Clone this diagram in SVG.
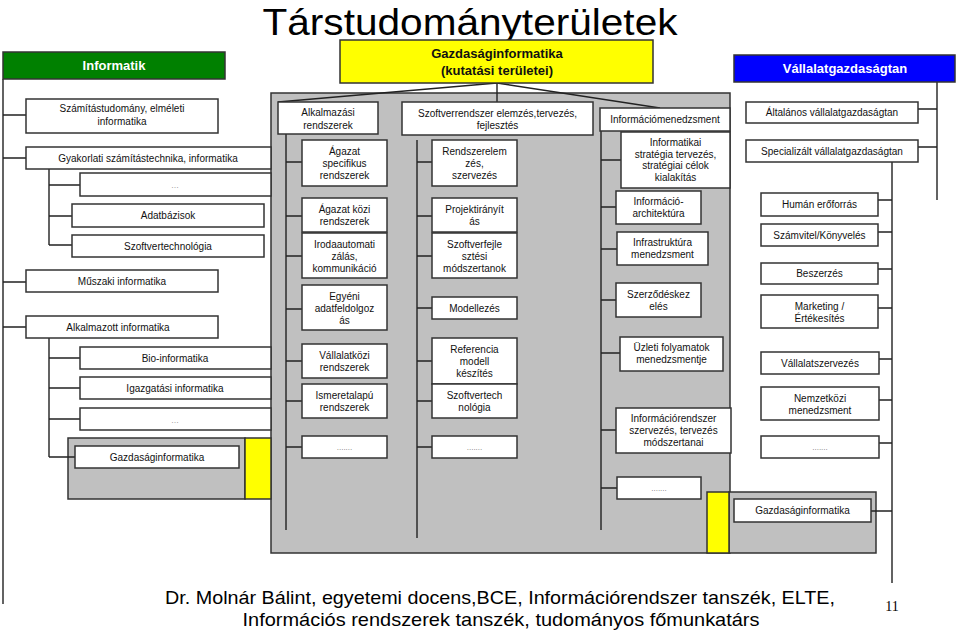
<svg xmlns="http://www.w3.org/2000/svg" width="960" height="633" viewBox="0 0 960 633">
<style>
.b{fill:#fff;stroke:#333;stroke-width:1.5}
.g{fill:#c0c0c0;stroke:#333;stroke-width:1.5}
.y{fill:#ffff00;stroke:#333;stroke-width:1.5}
.t{font-family:"Liberation Sans",Arial,sans-serif;font-size:10px;fill:#111;text-anchor:middle}
.d{font-family:"Liberation Sans",Arial,sans-serif;font-size:8px;fill:#777;text-anchor:middle}
.h{font-family:"Liberation Sans",Arial,sans-serif;font-weight:bold;font-size:13px;text-anchor:middle}
.c{stroke:#222;stroke-width:1.4;fill:none}
</style>
<rect width="960" height="633" fill="#fff"/>
<text x="470" y="35" font-family="Liberation Sans, Arial, sans-serif" font-size="36" text-anchor="middle" textLength="415" lengthAdjust="spacingAndGlyphs" fill="#000">Társtudományterületek</text>

<g id="bg">
<rect class="g" x="271" y="93" width="459" height="460"/>
<rect class="g" x="68" y="438" width="177" height="61"/>
<rect class="y" x="245" y="438" width="26" height="61"/>
<rect class="g" x="729" y="492" width="147" height="61"/>
<rect class="y" x="707" y="492" width="22" height="61"/>
</g>

<g id="connectors" class="c">
<path d="M497,83 L278,102 M497,83 L497,102 M497,83 L660,108"/>
<path d="M3,79 V604 M3,115 H26 M3,158 H26 M3,282 H26 M3,327 H26"/>
<path d="M49,169 V245 M49,185 H80 M49,216 H72 M49,245 H72"/>
<path d="M49,338 V457 M49,358 H80 M49,388 H80 M49,419 H80 M49,457 H75"/>
<path d="M286,134 V530 M286,162 H302 M286,216 H302 M286,256 H302 M286,309 H302 M286,361 H302 M286,401 H302 M286,447 H302"/>
<path d="M417,140 V538 M417,162 H432 M417,216 H432 M417,256 H432 M417,308 H432 M417,361 H432 M417,401 H432 M417,447 H432"/>
<path d="M601,131 V530 M601,160 H621 M601,207 H616 M601,249 H617 M601,300 H616 M601,353 H620 M601,430 H616 M601,488 H617"/>
<path d="M937,82 V200 M918,109 H937 M918,147 H937"/>
<path d="M892,162 V583 M878,200 H892 M878,232 H892 M878,269 H892 M878,308 H892 M879,359 H892 M879,400 H892 M879,443 H892 M871,511 H892"/>
</g>

<g id="informatik"><rect x="3" y="52" width="222" height="27" fill="#008000" stroke="#333" stroke-width="1.5"/><text class="h" x="114" y="70" fill="#fff">Informatik</text></g>
<g id="gazdinf-top"><rect class="y" x="340" y="40" width="313" height="43"/><text class="h" x="497" y="57.5" fill="#111">Gazdaságinformatika</text><text class="h" x="497" y="74.5" fill="#111">(kutatási területei)</text></g>
<g id="vallalat"><rect x="734" y="55" width="221" height="27" fill="#0000ff" stroke="#333" stroke-width="1.5"/><text class="h" x="845" y="73" fill="#fff">Vállalatgazdaságtan</text></g>

<g id="n1"><rect class="b" x="26" y="99" width="192" height="34"/><text class="t" x="122" y="112">Számítástudomány, elméleti</text><text class="t" x="122" y="125">informatika</text></g>
<g id="n2"><rect class="b" x="26" y="147" width="245" height="22"/><text class="t" x="148" y="161.5">Gyakorlati számítástechnika, informatika</text></g>
<g id="n3"><rect class="b" x="80" y="173" width="191" height="23"/><text class="d" x="175" y="188">…</text></g>
<g id="n4"><rect class="b" x="72" y="204" width="192" height="23"/><text class="t" x="168" y="219">Adatbázisok</text></g>
<g id="n5"><rect class="b" x="72" y="235" width="192" height="22"/><text class="t" x="168" y="249.5">Szoftvertechnológia</text></g>
<g id="n6"><rect class="b" x="26" y="270" width="192" height="22"/><text class="t" x="122" y="284.5">Műszaki informatika</text></g>
<g id="n7"><rect class="b" x="26" y="316" width="192" height="22"/><text class="t" x="118" y="330.5">Alkalmazott informatika</text></g>
<g id="n8"><rect class="b" x="80" y="347" width="191" height="22"/><text class="t" x="175" y="361.5">Bio-informatika</text></g>
<g id="n9"><rect class="b" x="80" y="377" width="191" height="22"/><text class="t" x="175" y="391.5">Igazgatási informatika</text></g>
<g id="n10"><rect class="b" x="80" y="408" width="191" height="22"/><text class="d" x="175" y="422.5">…</text></g>
<g id="n11"><rect class="b" x="75" y="446" width="164" height="22"/><text class="t" x="157" y="460.5">Gazdaságinformatika</text></g>

<g id="m0"><rect class="b" x="278" y="102" width="100" height="32"/><text class="t" x="328" y="116">Alkalmazási</text><text class="t" x="328" y="128.5">rendszerek</text></g>
<g id="m1"><rect class="b" x="302" y="140" width="85" height="46"/><text class="t" x="344.5" y="154.5">Ágazat</text><text class="t" x="344.5" y="166.5">specifikus</text><text class="t" x="344.5" y="178.5">rendszerek</text></g>
<g id="m2"><rect class="b" x="302" y="198" width="85" height="34"/><text class="t" x="344.5" y="212.5">Ágazat közi</text><text class="t" x="344.5" y="224.5">rendszerek</text></g>
<g id="m3"><rect class="b" x="302" y="233" width="85" height="45"/><text class="t" x="344.5" y="247.5">Irodaautomati</text><text class="t" x="344.5" y="259.5">zálás,</text><text class="t" x="344.5" y="271.5">kommunikáció</text></g>
<g id="m4"><rect class="b" x="302" y="285" width="85" height="45"/><text class="t" x="344.5" y="299.5">Egyéni</text><text class="t" x="344.5" y="311.5">adatfeldolgoz</text><text class="t" x="344.5" y="323.5">ás</text></g>
<g id="m5"><rect class="b" x="302" y="344" width="85" height="34"/><text class="t" x="344.5" y="358.5">Vállalatközi</text><text class="t" x="344.5" y="370.5">rendszerek</text></g>
<g id="m6"><rect class="b" x="302" y="384" width="85" height="34"/><text class="t" x="344.5" y="398.5">Ismeretalapú</text><text class="t" x="344.5" y="410.5">rendszerek</text></g>
<g id="m7"><rect class="b" x="302" y="436" width="85" height="22"/><text class="d" x="344.5" y="450">.......</text></g>

<g id="s0"><rect class="b" x="402" y="102" width="191" height="33"/><text class="t" x="497.5" y="116.5">Szoftverrendszer elemzés,tervezés,</text><text class="t" x="497.5" y="129">fejlesztés</text></g>
<g id="s1"><rect class="b" x="432" y="140" width="85" height="46"/><text class="t" x="474.5" y="154.5">Rendszerelem</text><text class="t" x="474.5" y="166.5">zés,</text><text class="t" x="474.5" y="178.5">szervezés</text></g>
<g id="s2"><rect class="b" x="432" y="198" width="85" height="34"/><text class="t" x="474.5" y="212.5">Projektirányít</text><text class="t" x="474.5" y="224.5">ás</text></g>
<g id="s3"><rect class="b" x="432" y="233" width="85" height="45"/><text class="t" x="474.5" y="247.5">Szoftverfejle</text><text class="t" x="474.5" y="259.5">sztési</text><text class="t" x="474.5" y="271.5">módszertanok</text></g>
<g id="s4"><rect class="b" x="432" y="297" width="85" height="22"/><text class="t" x="474.5" y="311.5">Modellezés</text></g>
<g id="s5"><rect class="b" x="432" y="338" width="85" height="46"/><text class="t" x="474.5" y="352.5">Referencia</text><text class="t" x="474.5" y="364.5">modell</text><text class="t" x="474.5" y="376.5">készítés</text></g>
<g id="s6"><rect class="b" x="432" y="384" width="85" height="34"/><text class="t" x="474.5" y="398.5">Szoftvertech</text><text class="t" x="474.5" y="410.5">nológia</text></g>
<g id="s7"><rect class="b" x="432" y="436" width="85" height="22"/><text class="d" x="474.5" y="450">.......</text></g>

<g id="i0"><rect class="b" x="600" y="108" width="130" height="23"/><text class="t" x="665" y="123">Információmenedzsment</text></g>
<g id="i1"><rect class="b" x="621" y="132" width="109" height="56"/><text class="t" x="675.5" y="146">Informatikai</text><text class="t" x="675.5" y="157.5">stratégia tervezés,</text><text class="t" x="675.5" y="169">stratégiai  célok</text><text class="t" x="675.5" y="180.5">kialakítás</text></g>
<g id="i2"><rect class="b" x="616" y="191" width="85" height="33"/><text class="t" x="658.5" y="204.5">Információ-</text><text class="t" x="658.5" y="216.5">architektúra</text></g>
<g id="i3"><rect class="b" x="617" y="232" width="91" height="33"/><text class="t" x="662.5" y="245.5">Infrastruktúra</text><text class="t" x="662.5" y="257.5">menedzsment</text></g>
<g id="i4"><rect class="b" x="616" y="283" width="85" height="34"/><text class="t" x="658.5" y="297.5">Szerződéskez</text><text class="t" x="658.5" y="309.5">elés</text></g>
<g id="i5"><rect class="b" x="620" y="337" width="103" height="34"/><text class="t" x="671.5" y="351">Üzleti folyamatok</text><text class="t" x="671.5" y="363">menedzsmentje</text></g>
<g id="i6"><rect class="b" x="616" y="408" width="115" height="45"/><text class="t" x="673.5" y="422">Információrendszer</text><text class="t" x="673.5" y="434">szervezés, tervezés</text><text class="t" x="673.5" y="446">módszertanai</text></g>
<g id="i7"><rect class="b" x="617" y="477" width="84" height="22"/><text class="d" x="659" y="491">.......</text></g>

<g id="v0"><rect class="b" x="746" y="102" width="172" height="21"/><text class="t" x="832" y="116">Általános vállalatgazdaságtan</text></g>
<g id="v1"><rect class="b" x="746" y="140" width="172" height="22"/><text class="t" x="832" y="154.5">Specializált  vállalatgazdaságtan</text></g>
<g id="v2"><rect class="b" x="761" y="193" width="117" height="23"/><text class="t" x="819.5" y="208">Humán erőforrás</text></g>
<g id="v3"><rect class="b" x="761" y="224" width="117" height="22"/><text class="t" x="819.5" y="238.5">Számvitel/Könyvelés</text></g>
<g id="v4"><rect class="b" x="761" y="263" width="117" height="21"/><text class="t" x="819.5" y="277">Beszerzés</text></g>
<g id="v5"><rect class="b" x="761" y="295" width="117" height="33"/><text class="t" x="819.5" y="309.5">Marketing /</text><text class="t" x="819.5" y="321.5">Értékesítés</text></g>
<g id="v6"><rect class="b" x="761" y="352" width="118" height="22"/><text class="t" x="820" y="366.5">Vállalatszervezés</text></g>
<g id="v7"><rect class="b" x="761" y="387" width="118" height="33"/><text class="t" x="820" y="401.5">Nemzetközi</text><text class="t" x="820" y="413.5">menedzsment</text></g>
<g id="v8"><rect class="b" x="761" y="436" width="118" height="22"/><text class="d" x="820" y="450">.......</text></g>
<g id="v9"><rect class="b" x="734" y="499" width="137" height="23"/><text class="t" x="802.5" y="514">Gazdaságinformatika</text></g>

<g id="footer" font-family="Liberation Sans, Arial, sans-serif" fill="#000">
<text x="500" y="604" font-size="19" text-anchor="middle" textLength="670" lengthAdjust="spacingAndGlyphs">Dr. Molnár Bálint, egyetemi docens,BCE, Információrendszer tanszék, ELTE,</text>
<text x="501" y="626" font-size="19" text-anchor="middle" textLength="517" lengthAdjust="spacingAndGlyphs">Információs rendszerek tanszék, tudományos főmunkatárs</text>
<text x="892" y="611" font-size="14" text-anchor="middle" font-family="Liberation Serif, serif">11</text>
</g>
</svg>
